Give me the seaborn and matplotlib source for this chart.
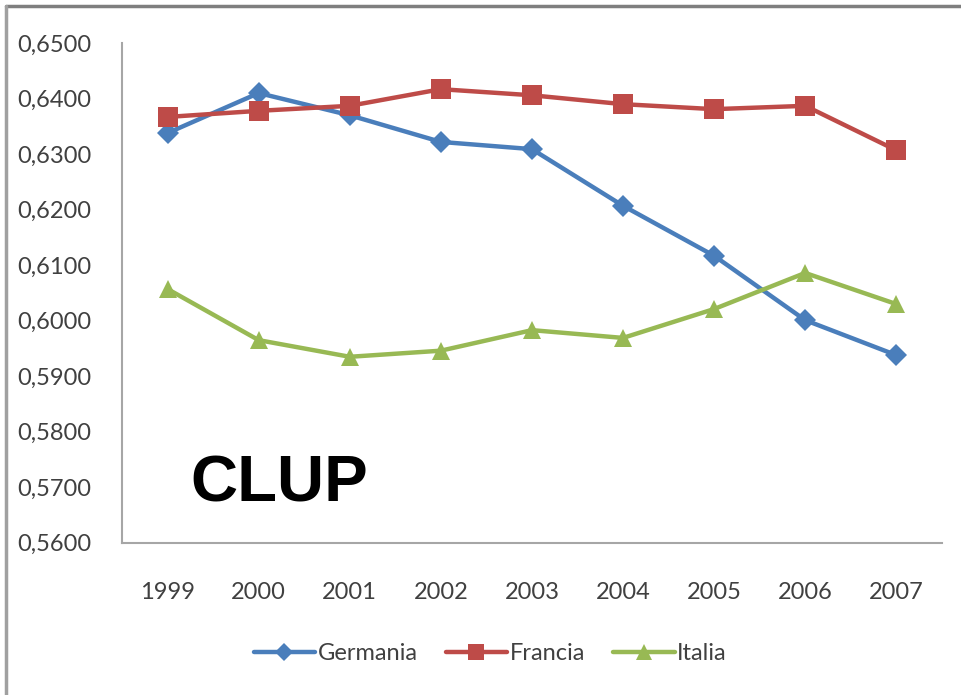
import matplotlib
matplotlib.use("Agg")
import matplotlib.pyplot as plt
import matplotlib.ticker as mticker
from matplotlib.lines import Line2D
import pandas as pd
import seaborn as sns

years = [1999, 2000, 2001, 2002, 2003, 2004, 2005, 2006, 2007]
germania = [0.6338, 0.6410, 0.6370, 0.6322, 0.6309, 0.6207, 0.6117, 0.6001, 0.5938]
francia = [0.6367, 0.6378, 0.6387, 0.6417, 0.6406, 0.6390, 0.6381, 0.6387, 0.6307]
italia = [0.6057, 0.5965, 0.5935, 0.5946, 0.5983, 0.5969, 0.6021, 0.6086, 0.6030]
series = ["Germania", "Francia", "Italia"]
y_ticks = [0.56, 0.57, 0.58, 0.59, 0.60, 0.61, 0.62, 0.63, 0.64, 0.65]

colors = {"Germania": "#4A7EBB", "Francia": "#BE4B48", "Italia": "#98B954"}
markers = {"Germania": "D", "Francia": "s", "Italia": "^"}
msizes = {"Germania": 11, "Francia": 14, "Italia": 13}

df = pd.DataFrame({
    "year": years * 3,
    "value": germania + francia + italia,
    "paese": ["Germania"] * 9 + ["Francia"] * 9 + ["Italia"] * 9,
})

sns.set_style("white")
plt.rcParams["font.family"] = ["Lato", "DejaVu Sans"]

fig = plt.figure(figsize=(9.61, 6.95), dpi=100)
ax = fig.add_axes([0.127, 0.219, 0.853, 0.719])

for name in series:
    sub = df[df["paese"] == name]
    sns.lineplot(data=sub, x="year", y="value", ax=ax, color=colors[name],
                 linewidth=3.2, marker=markers[name], markersize=msizes[name],
                 markeredgewidth=0, legend=False)

ax.set_xlim(1998.5, 2007.5)
ax.set_ylim(0.56, 0.65)
ax.set_xticks(years)
ax.set_yticks(y_ticks)
ax.yaxis.set_major_formatter(
    mticker.FuncFormatter(lambda v, p: f"{v:.4f}".replace(".", ",")))
ax.tick_params(axis="both", length=0, labelsize=17, colors="#404040")
ax.tick_params(axis="y", pad=22)
ax.tick_params(axis="x", pad=28)
ax.set_xlabel("")
ax.set_ylabel("")
for s in ["top", "right"]:
    ax.spines[s].set_visible(False)
for s in ["left", "bottom"]:
    ax.spines[s].set_color("#A6A6A6")
    ax.spines[s].set_linewidth(1.5)

ax.text(0.083, 0.082, "CLUP", transform=ax.transAxes, fontsize=47,
        fontweight="bold", family="Liberation Sans", color="black",
        va="baseline", ha="left")

handles = [Line2D([], [], color=colors[n], marker=markers[n], linewidth=3.2,
                  markersize=msizes[n] * 0.85, markeredgewidth=0) for n in series]
fig.legend(handles, series, loc="center", bbox_to_anchor=(0.51, 0.06), ncol=3,
           frameon=False, fontsize=17, handlelength=2.6, handletextpad=0.1,
           columnspacing=1.2, labelcolor="#404040")

# outer frame (top and left edges)
fig.add_artist(Line2D([0.006, 1.0], [0.992, 0.992], transform=fig.transFigure,
                      color="#7F7F7F", linewidth=2.5))
fig.add_artist(Line2D([0.006, 0.006], [0.0, 0.992], transform=fig.transFigure,
                      color="#A0A0A0", linewidth=2.5))

fig.savefig("out.png", dpi=100)
